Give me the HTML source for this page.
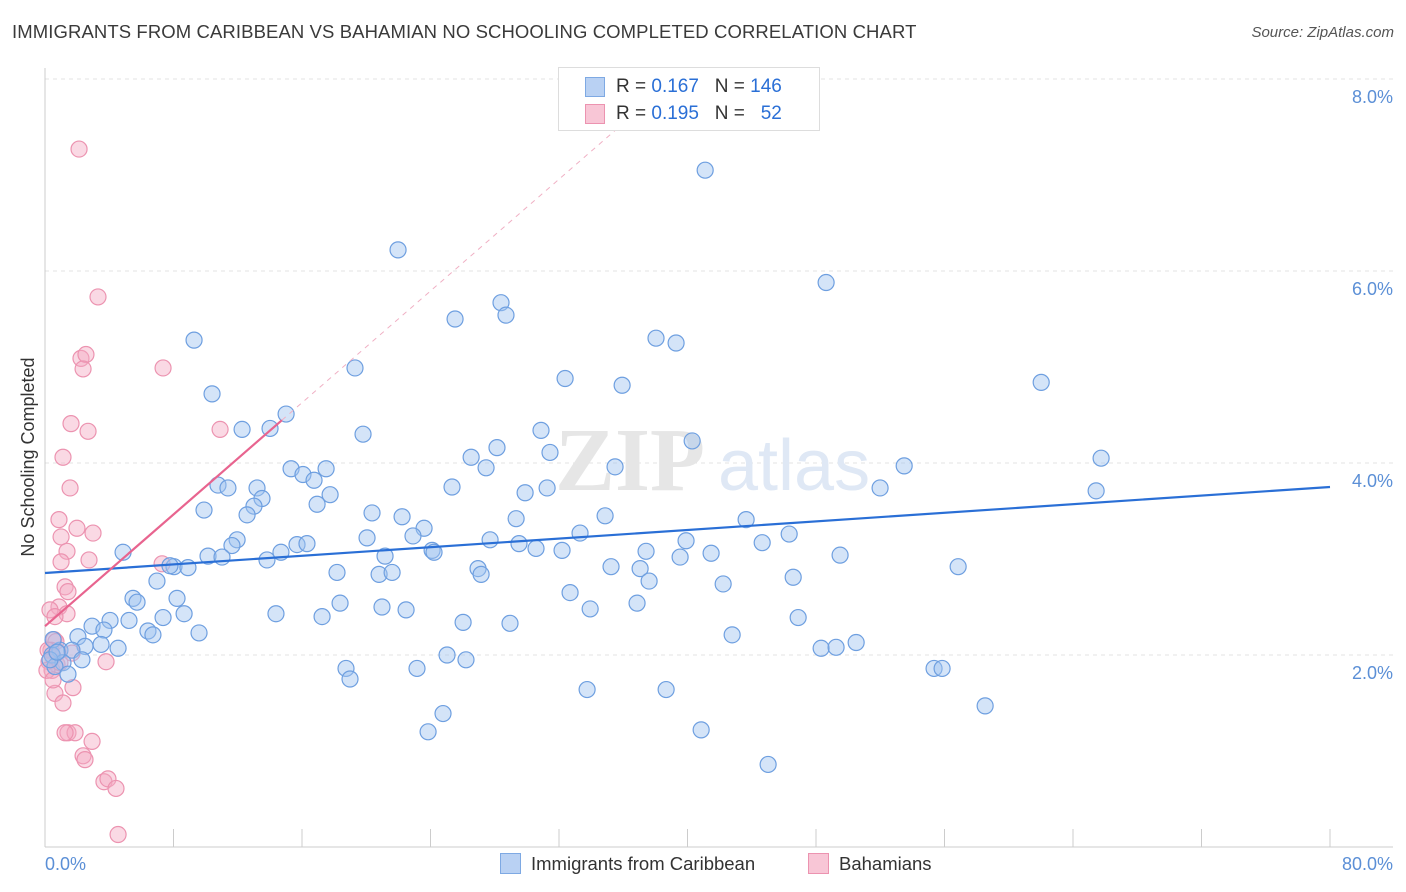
<!DOCTYPE html>
<html><head><meta charset="utf-8">
<style>
body{margin:0;background:#fff;font-family:"Liberation Sans",sans-serif;}
#wrap{position:relative;width:1406px;height:892px;overflow:hidden;}
</style></head>
<body>
<div id="wrap">
<div style="position:absolute;left:12px;top:21px;font-size:18.5px;color:#3a3a3a;letter-spacing:0.1px;">IMMIGRANTS FROM CARIBBEAN VS BAHAMIAN NO SCHOOLING COMPLETED CORRELATION CHART</div>
<div style="position:absolute;right:12px;top:24px;font-size:15px;color:#555;font-style:italic;">Source: ZipAtlas.com</div>
<svg id="svg" width="1406" height="892" style="position:absolute;left:0;top:0"></svg>
</div>
<script>
const blueX=[41.10,21.98,48.63,25.53,28.39,28.70,9.28,38.04,39.29,19.30,32.38,35.93,62.02,10.40,15.01,12.27,14.01,19.80,30.88,40.29,28.14,26.53,31.44,27.46,35.49,53.49,65.75,15.32,17.50,16.06,16.75,10.77,11.39,13.20,25.34,17.75,13.51,31.26,29.89,51.99,65.44,16.94,13.01,9.90,12.58,20.36,22.23,34.87,29.33,43.65,23.60,11.96,11.64,33.31,46.33,20.05,27.71,22.91,15.69,16.31,29.51,30.57,39.91,44.65,4.86,10.15,11.02,21.17,24.10,24.22,32.19,37.42,41.47,49.50,13.82,14.69,8.03,8.90,7.78,18.18,20.80,21.61,26.96,35.24,37.05,39.54,56.85,6.97,27.15,37.61,46.58,42.22,32.69,8.22,5.48,5.73,18.37,20.98,22.48,33.94,36.86,8.66,14.38,17.25,7.35,4.05,5.23,46.89,26.03,28.95,2.93,3.67,6.41,6.72,9.59,42.78,2.05,4.55,2.49,3.49,48.32,49.25,50.50,0.93,1.68,0.44,1.12,2.30,0.62,1.43,18.74,18.99,23.16,25.03,26.21,55.35,55.85,33.75,38.67,58.53,24.78,23.85,40.85,45.02,0.50,0.31,0.75];
const blueY=[7.05,6.22,5.88,5.50,5.67,5.54,5.28,5.30,5.25,4.99,4.88,4.81,4.84,4.72,4.51,4.35,4.36,4.30,4.34,4.23,4.16,4.06,4.11,3.95,3.96,3.97,4.05,3.94,3.94,3.88,3.82,3.77,3.74,3.74,3.75,3.67,3.63,3.74,3.69,3.74,3.71,3.57,3.55,3.51,3.46,3.48,3.44,3.45,3.42,3.41,3.32,3.20,3.14,3.27,3.26,3.22,3.20,3.24,3.15,3.16,3.16,3.11,3.19,3.17,3.07,3.03,3.02,3.03,3.09,3.07,3.09,3.08,3.06,3.04,2.99,3.07,2.92,2.91,2.93,2.86,2.84,2.86,2.90,2.92,2.90,3.02,2.92,2.77,2.84,2.77,2.81,2.74,2.65,2.59,2.59,2.55,2.54,2.50,2.47,2.48,2.54,2.43,2.43,2.40,2.39,2.36,2.36,2.39,2.34,2.33,2.30,2.26,2.25,2.21,2.23,2.21,2.19,2.07,2.09,2.11,2.07,2.08,2.13,2.05,2.05,2.00,1.92,1.95,1.88,1.80,1.86,1.75,1.86,2.00,1.95,1.86,1.86,1.64,1.64,1.47,1.39,1.20,1.22,0.86,2.16,1.95,2.03];
const pinkX=[2.12,3.30,2.24,2.55,2.37,7.35,1.62,2.68,10.90,1.12,1.56,0.87,1.99,2.99,1.00,1.37,2.74,1.00,1.25,1.43,7.29,0.87,0.31,1.37,0.62,0.56,0.68,0.37,0.19,0.81,1.68,0.50,0.25,0.75,3.80,0.44,1.74,0.62,1.12,1.43,1.87,1.25,2.93,2.37,2.49,3.67,3.92,4.42,4.55,0.93,0.12,0.50];
const pinkY=[7.27,5.73,5.09,5.13,4.98,4.99,4.41,4.33,4.35,4.06,3.74,3.41,3.32,3.27,3.23,3.08,2.99,2.97,2.71,2.66,2.95,2.50,2.47,2.43,2.40,2.16,2.14,2.05,2.05,2.03,2.02,1.98,1.93,1.90,1.93,1.84,1.66,1.60,1.50,1.19,1.19,1.19,1.10,0.95,0.91,0.68,0.71,0.61,0.13,1.92,1.84,1.74];
const yTicks=[2,4,6,8];
const yTickLabels=["2.0%","4.0%","6.0%","8.0%"];
const blueTrend=[2.854,3.75];
const pinkTrend=[2.30,0.1455];

const X0=45,X1=1330,Y0=847,PY=96;
const sx=v=>X0+v/80*(X1-X0);
const sy=v=>Y0-v*PY;
const svg=document.getElementById('svg');
const NS='http://www.w3.org/2000/svg';
function mk(tag,attrs){const e=document.createElementNS(NS,tag);for(const k in attrs)e.setAttribute(k,attrs[k]);svg.appendChild(e);return e;}

// gridlines + tick labels
yTicks.forEach((t,i)=>{
  const g=mk('line',{x1:X0,x2:1393,y1:sy(t),y2:sy(t),stroke:'#e3e3e3','stroke-dasharray':'4,4'});
  
  
  const tx=mk('text',{x:1393,y:sy(t)+24,'text-anchor':'end','font-size':'18','fill':'#5b8fd6','font-family':'Liberation Sans, sans-serif'});
  tx.textContent=yTickLabels[i];
  
  
});
// axes
let a=mk('line',{x1:X0,x2:X0,y1:68,y2:Y0,stroke:'#ccc'});


a=mk('line',{x1:X0,x2:1393,y1:Y0,y2:Y0,stroke:'#ccc'});


for(let i=0;i<=10;i++){
  const t=mk('line',{x1:sx(i*8),x2:sx(i*8),y1:Y0-18,y2:Y0,stroke:'#ccc'});
  
  
}
// watermark
let w=mk('text',{x:555,y:490,'font-size':'90','fill':'#e6e6e6','font-family':'Liberation Serif, serif','font-weight':'bold'});
w.textContent='ZIP';


w=mk('text',{x:718,y:490,'font-size':'72','fill':'#dfe8f5','font-family':'Liberation Sans, sans-serif'});
w.textContent='atlas';



// points
pinkX.forEach((x,i)=>{
  const c=mk('circle',{cx:sx(x),cy:sy(pinkY[i]),r:8,fill:'rgba(245,170,195,0.45)',stroke:'#ec93b0','stroke-width':1.2});
  
  
});
blueX.forEach((x,i)=>{
  const c=mk('circle',{cx:sx(x),cy:sy(blueY[i]),r:8,fill:'rgba(160,195,240,0.45)',stroke:'#6e9fe0','stroke-width':1.2});
  
  
});
// trends
let l=mk('line',{x1:sx(0),y1:sy(blueTrend[0]),x2:sx(80),y2:sy(blueTrend[1]),stroke:'#2a6fd6','stroke-width':2.2});


const pEnd=14.75, pDash=36.5;
l=mk('line',{x1:sx(0),y1:sy(pinkTrend[0]),x2:sx(pEnd),y2:sy(pinkTrend[0]+pinkTrend[1]*pEnd),stroke:'#e8648f','stroke-width':2.2});


l=mk('line',{x1:sx(pEnd),y1:sy(pinkTrend[0]+pinkTrend[1]*pEnd),x2:sx(pDash),y2:sy(pinkTrend[0]+pinkTrend[1]*pDash),stroke:'#f0b0c4','stroke-width':1,'stroke-dasharray':'5,5'});


// axis labels
let t=mk('text',{x:45,y:870,'font-size':'18','fill':'#5b8fd6','font-family':'Liberation Sans, sans-serif'});
t.textContent='0.0%';


t=mk('text',{x:1393,y:870,'text-anchor':'end','font-size':'18','fill':'#5b8fd6','font-family':'Liberation Sans, sans-serif'});
t.textContent='80.0%';


t=mk('text',{x:0,y:0,'font-size':'18','fill':'#333','font-family':'Liberation Sans, sans-serif','text-anchor':'middle',transform:'translate(34,457) rotate(-90)'});
t.textContent='No Schooling Completed';


</script>
<div style="position:absolute;left:558px;top:67px;width:260px;height:62px;border:1px solid #ddd;background:#fff;font-size:19px;color:#333;">
  <div style="position:absolute;left:26px;top:8px;white-space:pre;"><span style="position:absolute;left:0;top:1px;width:18px;height:18px;background:#b9d1f3;border:1px solid #7ea9e3;"></span><span style="position:absolute;left:31px;">R = <span style="color:#2a6fd6">0.167</span>   N = <span style="color:#2a6fd6">146</span></span></div>
  <div style="position:absolute;left:26px;top:35px;white-space:pre;"><span style="position:absolute;left:0;top:1px;width:18px;height:18px;background:#f8c6d6;border:1px solid #ec93b0;"></span><span style="position:absolute;left:31px;">R = <span style="color:#2a6fd6">0.195</span>   N = <span style="color:#2a6fd6">  52</span></span></div>
</div>
<div style="position:absolute;left:500px;top:853px;font-size:18.5px;color:#333;white-space:nowrap;">
  <span style="position:absolute;left:0;top:0;"><span style="display:inline-block;width:19px;height:19px;background:#b9d1f3;border:1px solid #7ea9e3;vertical-align:-4px;margin-right:10px;"></span>Immigrants from Caribbean</span>
  <span style="position:absolute;left:308px;top:0;"><span style="display:inline-block;width:19px;height:19px;background:#f8c6d6;border:1px solid #ec93b0;vertical-align:-4px;margin-right:10px;"></span>Bahamians</span>
</div>
</body></html>
